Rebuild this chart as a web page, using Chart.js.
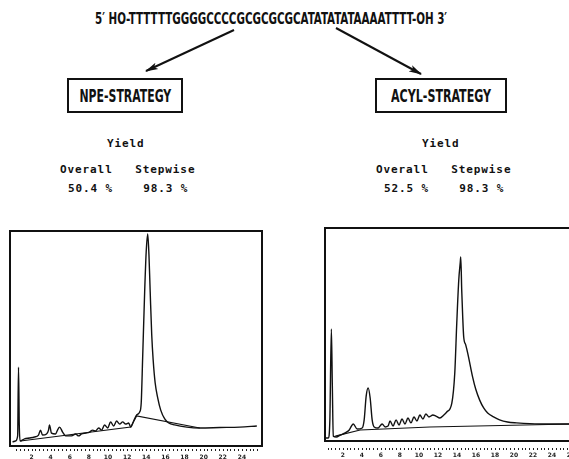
<!DOCTYPE html>
<html>
<head>
<meta charset="utf-8">
<script src="https://cdn.jsdelivr.net/npm/chart.js@4.4.0/dist/chart.umd.min.js"></script>
<style>
  html, body { margin: 0; padding: 0; background: #fff; }
  body { width: 569px; height: 459px; position: relative; overflow: hidden; color: #111;
         font-family: "DejaVu Sans Condensed", "DejaVu Sans", sans-serif; }
  .seq { position: absolute; left: 95px; top: 9px; font-weight: bold; font-size: 16px; white-space: nowrap; transform-origin: left top; }
  .box { position: absolute; top: 78px; height: 31px; border: 2px solid #111; font-weight: bold; font-size: 17px;
         display: flex; align-items: center; justify-content: center; white-space: nowrap; }
  .box span { display: inline-block; transform-origin: center; }
  .mono { position: absolute; font-family: "DejaVu Sans Mono", monospace; font-weight: bold; font-size: 11px; white-space: pre; letter-spacing: 0.9px; }
  .wrap { position: absolute; }
  svg { position: absolute; left: 0; top: 0; }
</style>
</head>
<body>
<svg width="569" height="459">
  <defs>
    <marker id="head" markerWidth="13" markerHeight="8" refX="12" refY="4" orient="auto" markerUnits="userSpaceOnUse">
      <path d="M0,0.5 L13,4 L0,7.5 L3,4 Z" fill="#111"/>
    </marker>
  </defs>
  <line x1="234" y1="30" x2="146" y2="71" stroke="#111" stroke-width="2" marker-end="url(#head)"/>
  <line x1="336" y1="28" x2="421" y2="74" stroke="#111" stroke-width="2" marker-end="url(#head)"/>
</svg>

<div class="seq" id="seq">5′ HO-TTTTTTGGGGCCCCGCGCGCGCATATATATAAAATTTT-OH 3′</div>

<div class="box" style="left:67px; width:112px;"><span id="npeTitle">NPE-STRATEGY</span></div>
<div class="box" style="left:375px; width:128px;"><span id="acylTitle">ACYL-STRATEGY</span></div>

<div class="mono" style="left:107px; top:137px;">Yield</div>
<div class="mono" style="left:60px; top:163px;">Overall   Stepwise</div>
<div class="mono" style="left:68px; top:182px;">50.4 %    98.3 %</div>

<div class="mono" style="left:422px; top:137px;">Yield</div>
<div class="mono" style="left:376px; top:163px;">Overall   Stepwise</div>
<div class="mono" style="left:384px; top:182px;">52.5 %    98.3 %</div>

<div class="wrap" style="left:0px; top:225px;"><canvas id="npe" width="275" height="234"></canvas></div>
<div class="wrap" style="left:315px; top:222px;"><canvas id="acyl" width="262" height="237"></canvas></div>

<script>
// squeeze the printer-style headings to the width they take in the figure
function fit(id, w) {
  const el = document.getElementById(id);
  el.style.transform = 'scaleX(' + (w / el.offsetWidth) + ')';
}
fit('seq', 352);
fit('npeTitle', 92);
fit('acylTitle', 100);

// retention time (min) and detector signal (% of full scale)
const npeTime = [0.01, 0.32, 0.55, 0.64, 0.72, 0.81, 1.27, 1.79, 2.31, 2.73, 2.94, 3.15, 3.57, 3.78, 3.88, 4.09,
  4.51, 4.72, 4.93, 5.25, 5.56, 6.19, 6.61, 6.92, 7.24, 7.65, 8.07, 8.39, 8.70, 9.02, 9.33, 9.64, 9.96, 10.27,
  10.59, 10.90, 11.22, 11.53, 11.84, 12.16, 12.37, 12.68, 12.99, 13.31, 13.47, 13.62, 13.83, 13.99, 14.15,
  14.28, 14.41, 14.57, 14.72, 14.93, 15.20, 15.51, 15.93, 16.35, 16.97, 18.23, 19.59, 21.69, 23.78, 25.56];
const npeSignal = [1.9, 2.3, 4.7, 36.7, 9.8, 2.3, 3.3, 3.7, 4.2, 5.1, 7.4, 5.1, 5.6, 7.4, 9.8, 6.0,
  5.6, 7.4, 8.8, 6.5, 4.7, 4.7, 5.6, 4.7, 5.6, 6.0, 6.5, 7.4, 7.0, 8.4, 7.4, 9.8, 8.4, 11.2,
  9.3, 11.6, 10.2, 11.2, 10.2, 10.7, 8.8, 11.6, 14.4, 15.8, 20.0, 40.9, 71.6, 90.2, 98.6,
  88.8, 71.6, 51.6, 40.0, 29.3, 22.3, 16.7, 12.6, 10.7, 9.8, 8.8, 8.4, 8.6, 8.8, 9.3];
const npeBaseTime = [0.85, 12.37, 12.99, 19.59];
const npeBaseSignal = [2.3, 8.8, 14.0, 8.4];

const acylTime = [0.05, 0.47, 0.63, 0.79, 0.89, 0.99, 1.31, 1.73, 2.25, 2.67, 3.09, 3.51, 4.03, 4.24, 4.45, 4.66,
  4.87, 5.08, 5.29, 5.71, 6.13, 6.44, 6.75, 6.96, 7.28, 7.59, 7.91, 8.22, 8.53, 8.85, 9.16, 9.48, 9.79, 10.10,
  10.42, 10.73, 11.05, 11.47, 11.78, 12.20, 12.62, 12.93, 13.46, 13.77, 13.98, 14.19, 14.35, 14.40, 14.50,
  14.61, 14.71, 14.92, 15.13, 15.65, 15.97, 16.39, 16.81, 17.23, 17.85, 18.48, 19.32, 20.26, 22.67, 26.13];
const acylSignal = [1.4, 1.4, 9.9, 52.6, 26.3, 2.3, 1.9, 2.8, 3.8, 5.2, 8.0, 5.6, 6.1, 9.9, 21.1, 24.9,
  20.2, 9.9, 6.6, 6.1, 8.0, 6.6, 7.0, 9.4, 7.0, 9.9, 7.5, 10.3, 8.0, 10.8, 8.5, 11.3, 9.4, 12.2,
  10.3, 12.7, 11.3, 12.2, 11.7, 10.8, 12.2, 13.6, 17.8, 31.9, 55.4, 75.6, 84.0, 86.4, 70.9,
  57.7, 48.8, 45.1, 41.3, 30.0, 24.4, 19.2, 15.5, 13.1, 11.3, 9.9, 8.9, 8.5, 8.0, 8.0];
const acylBaseTime = [1.20, 3.82, 11.15, 26.13];
const acylBaseSignal = [2.3, 5.2, 6.6, 8.0];

const npeTickLabels = [2, 4, 6, 8, 10, 12, 14, 16, 18, 20, 22, 24];
const acylTickLabels = [2, 4, 6, 8, 10, 12, 14, 16, 18, 20, 22, 24, 26];

function pairs(xs, ys) {
  return xs.map((x, i) => ({ x: x, y: ys[i] }));
}

// box around the plot area and the dotted time ruler under it
const frame = {
  id: 'frame',
  afterDraw(chart, args, opts) {
    const { ctx, chartArea: a, scales } = chart;
    ctx.save();
    ctx.strokeStyle = '#111';
    ctx.lineWidth = 2;
    ctx.strokeRect(a.left, a.top, a.right - a.left, a.bottom - a.top);
    ctx.fillStyle = '#222';
    for (let t = 0.4; t <= opts.end; t += 0.4) {
      const px = scales.x.getPixelForValue(t);
      ctx.fillRect(Math.round(px), a.bottom + opts.gap, 1, 2);
    }
    ctx.restore();
  }
};

function makeChart(id, trace, base, labels, xmin, xmax, pad, axisH, gap, labPad, rulerEnd) {
  return new Chart(document.getElementById(id), {
    type: 'line',
    data: {
      datasets: [
        { data: trace, borderColor: '#111', borderWidth: 1.4, pointRadius: 0, cubicInterpolationMode: 'monotone' },
        { data: base, borderColor: '#111', borderWidth: 1.1, pointRadius: 0 }
      ]
    },
    options: {
      responsive: false,
      animation: false,
      events: [],
      layout: { padding: pad },
      plugins: { legend: { display: false }, tooltip: { enabled: false }, frame: { gap: gap, end: rulerEnd } },
      scales: {
        x: {
          type: 'linear', min: xmin, max: xmax,
          grid: { display: false, drawTicks: false },
          border: { display: false },
          afterFit: s => { s.height = axisH; s.paddingLeft = 0; s.paddingRight = 0; },
          ticks: {
            stepSize: 2, includeBounds: false, autoSkip: false, maxRotation: 0,
            padding: labPad, color: '#222', font: { size: 6, weight: 'bold', family: 'DejaVu Sans' },
            callback: v => labels.includes(v) ? String(v) : ''
          }
        },
        y: { display: false, min: 0, max: 100 }
      }
    },
    plugins: [frame]
  });
}

makeChart('npe', pairs(npeTime, npeSignal), pairs(npeBaseTime, npeBaseSignal), npeTickLabels,
  -0.25, 26.1, { left: 10, right: 13, top: 6, bottom: 0 }, 13, 3, 8, 25.6);
makeChart('acyl', pairs(acylTime, acylSignal), pairs(acylBaseTime, acylBaseSignal), acylTickLabels,
  0.12, 26.1, { left: 10, right: 5, top: 6, bottom: 0 }, 18, 7, 11, 26.1);
</script>
</body>
</html>
